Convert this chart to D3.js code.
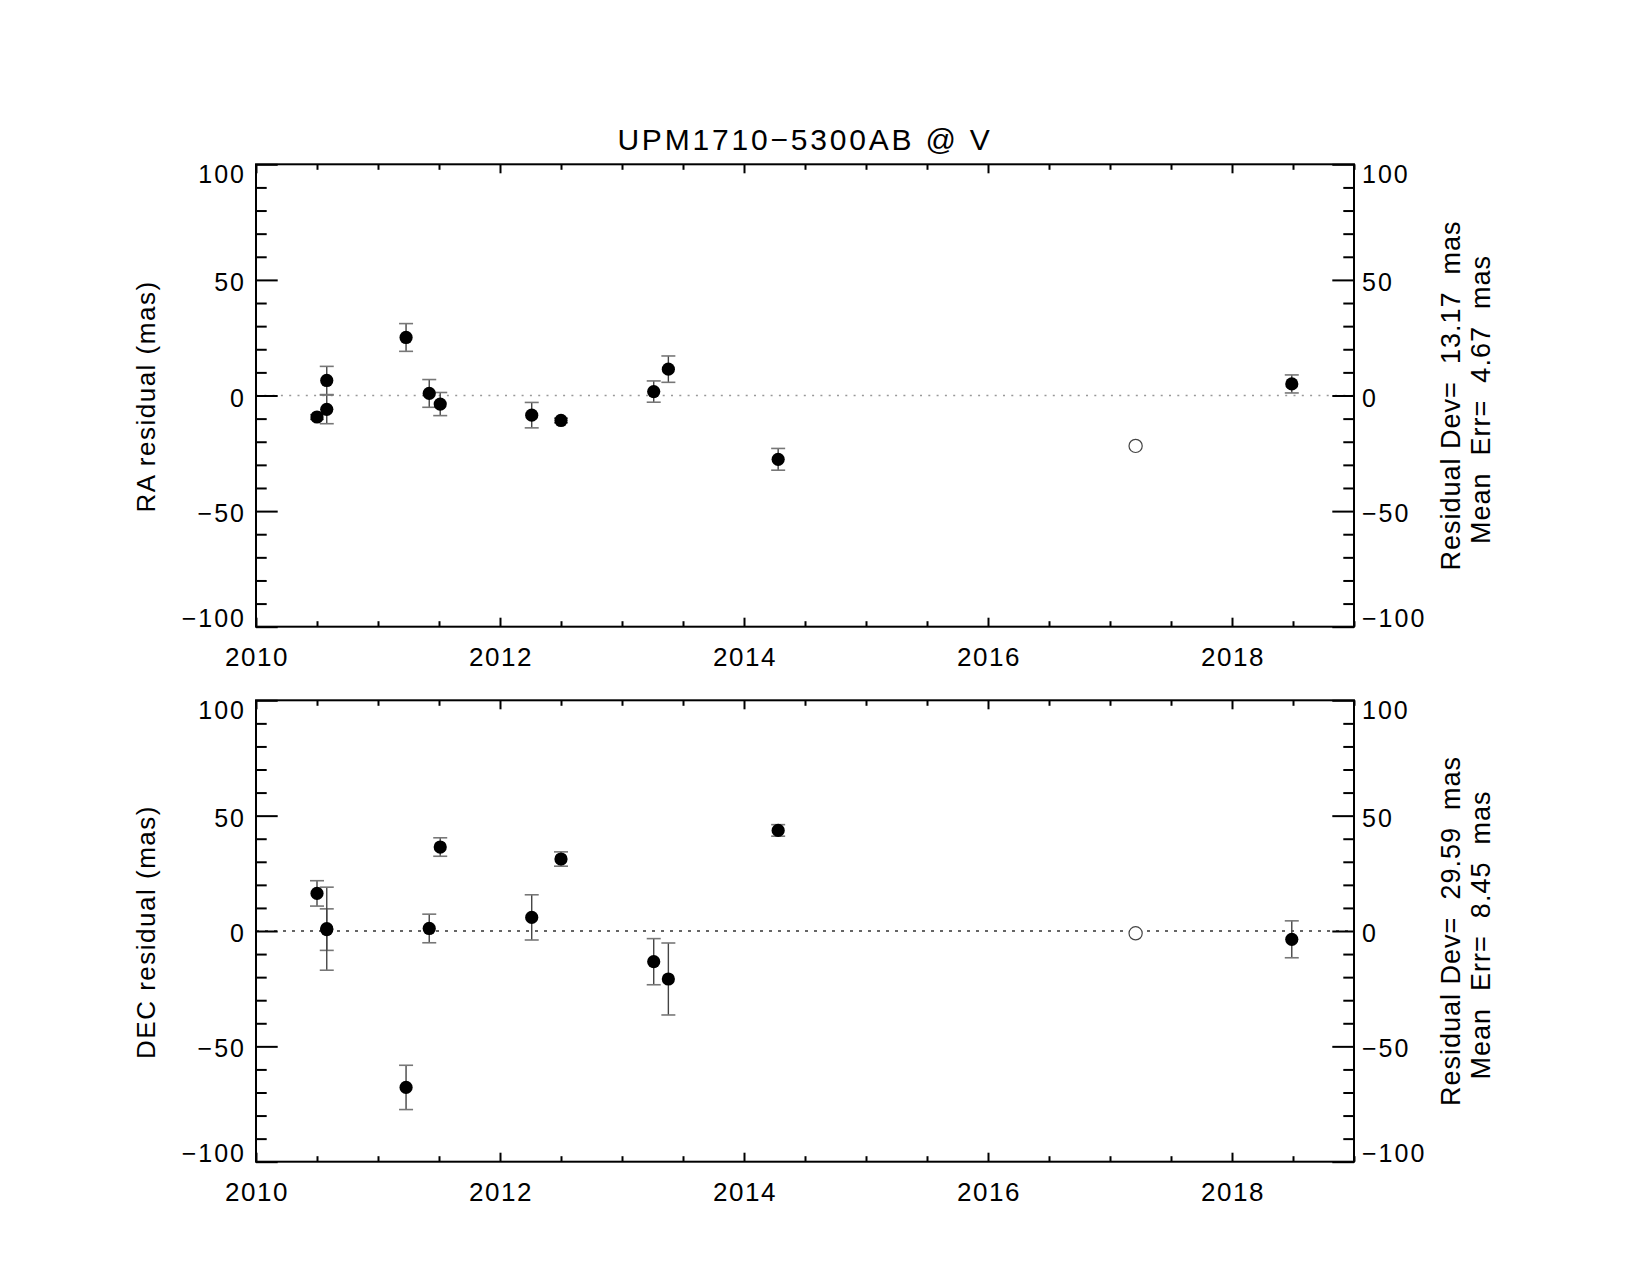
<!DOCTYPE html>
<html>
<head>
<meta charset="utf-8">
<script src="https://cdn.jsdelivr.net/npm/d3@7"></script>
<style>
body { margin: 0; background: #fff; }
text { font-family: "Liberation Sans", Arial, Helvetica, sans-serif; fill: #000; white-space: pre; }
</style>
</head>
<body>
<div id="chart"></div>
<script>
// epochs of the observations (decimal years)
const epochs   = [2010.50, 2010.58, 2010.58, 2011.23, 2011.42, 2011.51, 2012.26, 2012.50, 2013.26, 2013.38, 2014.28, 2017.21, 2018.49];
// rejected point drawn as open circle
const rejected = [false, false, false, false, false, false, false, false, false, false, false, true, false];

// RA residuals and errors (mas)
const raResid = [-9.3, 6.5, -6.0, 25.1, 0.9, -3.7, -8.5, -10.8, 1.7, 11.4, -27.6, -21.8, 5.0];
const raErr   = [1.0, 6.1, 6.2, 6.0, 6.0, 5.0, 5.5, 1.0, 4.6, 5.7, 4.7, 0, 3.9];

// DEC residuals and errors (mas)
const decResid = [16.3, 0.6, 1.0, -67.8, 1.1, 36.4, 5.9, 31.2, -13.3, -20.8, 43.6, -1.0, -3.6];
const decErr   = [5.5, 9.0, 18.0, 9.6, 6.2, 4.0, 9.8, 3.1, 10.0, 15.6, 2.5, 0, 8.0];

const xMajor = [2010, 2012, 2014, 2016, 2018];
const yMajor = [-100, -50, 0, 50, 100];

const title = "UPM1710\u22125300AB @ V";
const raStats  = ["Residual Dev=  13.17  mas", "Mean  Err=  4.67  mas"];
const decStats = ["Residual Dev=  29.59  mas", "Mean  Err=  8.45  mas"];

const W = 1650, H = 1275;
const svg = d3.select("#chart").append("svg")
    .attr("width", W)
    .attr("height", H);

const x = d3.scaleLinear().domain([2010, 2019]).range([256, 1354]);
const xMinor = d3.range(2010, 2019.01, 0.5).filter(d => !xMajor.includes(d));
const yMinor = d3.range(-100, 100.1, 10).filter(d => !yMajor.includes(d));
const fmt = d => d < 0 ? "\u2212" + Math.abs(d) : String(d);

const panels = [
    { top: 164.3, bottom: 626.7, label: "RA residual (mas)", vals: raResid, errs: raErr,
      stats: raStats, zeroColor: "#999", zeroDash: "2,6.3" },
    { top: 700.3, bottom: 1161.7, label: "DEC residual (mas)", vals: decResid, errs: decErr,
      stats: decStats, zeroColor: "#333", zeroDash: "3,6" }
];

// title
svg.append("text")
    .attr("x", (x.range()[0] + x.range()[1]) / 2)
    .attr("y", 150)
    .attr("text-anchor", "middle")
    .attr("font-size", "30px")
    .attr("letter-spacing", "2.8px")
    .text(title);

panels.forEach(p => {
    const y = d3.scaleLinear().domain([-100, 100]).range([p.bottom, p.top]);
    const g = svg.append("g");
    const x0 = x.range()[0], x1 = x.range()[1];

    // zero line
    g.append("line")
        .attr("x1", x0).attr("x2", x1)
        .attr("y1", y(0)).attr("y2", y(0))
        .attr("stroke", p.zeroColor)
        .attr("stroke-width", 1.5)
        .attr("stroke-dasharray", p.zeroDash);

    // ticks with d3 axes (inward)
    const tickAxis = (axis, transform) => {
        g.append("g")
            .attr("transform", transform)
            .call(axis)
            .call(a => a.select(".domain").remove())
            .call(a => a.selectAll("line").attr("stroke", "#000").attr("stroke-width", 2));
    };
    tickAxis(d3.axisBottom(x).tickValues(xMinor).tickSize(-5.5).tickFormat(""), `translate(0,${p.bottom})`);
    tickAxis(d3.axisBottom(x).tickValues(xMajor).tickSize(-9).tickFormat(""), `translate(0,${p.bottom})`);
    tickAxis(d3.axisTop(x).tickValues(xMinor).tickSize(-5.5).tickFormat(""), `translate(0,${p.top})`);
    tickAxis(d3.axisTop(x).tickValues(xMajor).tickSize(-9).tickFormat(""), `translate(0,${p.top})`);
    tickAxis(d3.axisLeft(y).tickValues(yMinor).tickSize(-10.7).tickFormat(""), `translate(${x0},0)`);
    tickAxis(d3.axisLeft(y).tickValues(yMajor).tickSize(-21.7).tickFormat(""), `translate(${x0},0)`);
    tickAxis(d3.axisRight(y).tickValues(yMinor).tickSize(-10.7).tickFormat(""), `translate(${x1},0)`);
    tickAxis(d3.axisRight(y).tickValues(yMajor).tickSize(-21.7).tickFormat(""), `translate(${x1},0)`);

    // frame
    g.append("rect")
        .attr("x", x0).attr("y", p.top)
        .attr("width", x1 - x0).attr("height", p.bottom - p.top)
        .attr("fill", "none")
        .attr("stroke", "#000")
        .attr("stroke-width", 2);

    // x tick labels
    g.selectAll(".xlab").data(xMajor).enter().append("text")
        .attr("x", d => x(d) + 1)
        .attr("y", p.bottom + 39)
        .attr("text-anchor", "middle")
        .attr("font-size", "26px")
        .attr("letter-spacing", "1.5px")
        .text(d => d);

    // y tick labels, end labels kept inside the frame like IDL does
    const yLabY = d => d === 100 ? y(d) + 19 : d === -100 ? y(d) : y(d) + 11;
    g.selectAll(".ylabL").data(yMajor).enter().append("text")
        .attr("x", x0 - 10)
        .attr("y", yLabY)
        .attr("text-anchor", "end")
        .attr("font-size", "25px")
        .attr("letter-spacing", "2px")
        .text(fmt);
    g.selectAll(".ylabR").data(yMajor).enter().append("text")
        .attr("x", x1 + 8)
        .attr("y", yLabY)
        .attr("font-size", "25px")
        .attr("letter-spacing", "2px")
        .text(fmt);

    // y axis title
    const yc = (p.top + p.bottom) / 2;
    g.append("text")
        .attr("transform", `translate(155,${yc + 1}) rotate(-90)`)
        .attr("text-anchor", "middle")
        .attr("font-size", "26px")
        .attr("letter-spacing", "1.5px")
        .text(p.label);

    // stats on the right
    g.append("text")
        .attr("transform", `translate(1460,${yc}) rotate(-90)`)
        .attr("text-anchor", "middle")
        .attr("font-size", "27px")
        .attr("letter-spacing", "1px")
        .text(p.stats[0]);
    g.append("text")
        .attr("transform", `translate(1490,${yc + 4}) rotate(-90)`)
        .attr("text-anchor", "middle")
        .attr("font-size", "27px")
        .attr("letter-spacing", "1px")
        .text(p.stats[1]);

    const pts = epochs.map((t, i) => ({ t: t, v: p.vals[i], e: p.errs[i], rej: rejected[i] }));

    // error bars
    const eb = g.selectAll(".err").data(pts.filter(d => d.e > 0)).enter().append("g");
    eb.append("line")
        .attr("x1", d => x(d.t)).attr("x2", d => x(d.t))
        .attr("y1", d => y(d.v - d.e)).attr("y2", d => y(d.v + d.e))
        .attr("stroke", "#444").attr("stroke-width", 1.4);
    [-1, 1].forEach(s => {
        eb.append("line")
            .attr("x1", d => x(d.t) - 7).attr("x2", d => x(d.t) + 7)
            .attr("y1", d => y(d.v + s * d.e)).attr("y2", d => y(d.v + s * d.e))
            .attr("stroke", "#777").attr("stroke-width", 1.6);
    });

    // points
    g.selectAll(".pt").data(pts).enter().append("circle")
        .attr("cx", d => x(d.t))
        .attr("cy", d => y(d.v))
        .attr("r", 6.6)
        .attr("fill", d => d.rej ? "#fff" : "#000")
        .attr("stroke", d => d.rej ? "#444" : "none")
        .attr("stroke-width", 1.2);
});
</script>
</body>
</html>
